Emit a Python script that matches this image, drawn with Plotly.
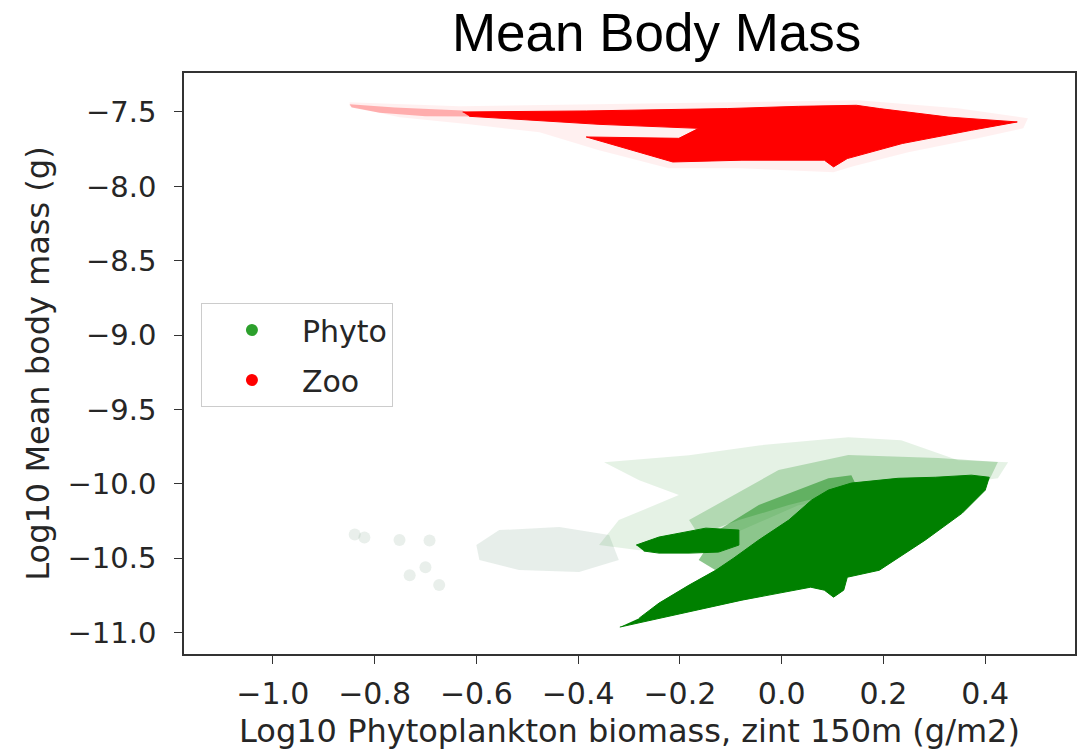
import plotly.graph_objects as go

# ---------------- text ----------------
title_text = "Mean Body Mass"
x_label = "Log10 Phytoplankton biomass, zint 150m (g/m2)"
y_label = "Log10 Mean body mass (g)"
series_names = ["Phyto", "Zoo"]

x_ticks = [-1.0, -0.8, -0.6, -0.4, -0.2, 0.0, 0.2, 0.4]
x_tick_labels = ["−1.0", "−0.8", "−0.6", "−0.4", "−0.2", "0.0", "0.2", "0.4"]
y_ticks = [-7.5, -8.0, -8.5, -9.0, -9.5, -10.0, -10.5, -11.0]
y_tick_labels = ["−7.5", "−8.0", "−8.5", "−9.0", "−9.5", "−10.0", "−10.5", "−11.0"]

# ---------------- Zoo cloud (outlines) ----------------
zoo_halo_x = [-0.849, -0.633, -0.104, 0.151, 0.347, 0.484, 0.475, 0.386, 0.249, 0.141,
              0.102, -0.084, -0.222, -0.359, -0.476, -0.614, -0.751, -0.849]
zoo_halo_y = [-7.435, -7.462, -7.435, -7.421, -7.475, -7.542, -7.610, -7.677, -7.771, -7.865,
              -7.905, -7.878, -7.878, -7.757, -7.636, -7.583, -7.536, -7.462]

zoo_tail_x = [-0.849, -0.760, -0.627, -0.600, -0.700, -0.790, -0.845]
zoo_tail_y = [-7.448, -7.470, -7.490, -7.530, -7.528, -7.505, -7.470]

zoo_core_x = [-0.627, -0.384, -0.106, 0.033, 0.147, 0.192, 0.327, 0.463, 0.373, 0.237,
              0.129, 0.102, 0.084, -0.078, -0.214, -0.329, -0.384, -0.202, -0.163, -0.359,
              -0.614]
zoo_core_y = [-7.500, -7.493, -7.477, -7.462, -7.455, -7.477, -7.534, -7.567, -7.623, -7.712,
              -7.813, -7.869, -7.824, -7.824, -7.836, -7.724, -7.668, -7.677, -7.610, -7.583,
              -7.529]

# ---------------- Phyto cloud ----------------
phyto_ring_x = [-0.600, -0.555, -0.437, -0.339, -0.320, -0.398, -0.516, -0.594]
phyto_ring_y = [-10.410, -10.310, -10.290, -10.344, -10.512, -10.592, -10.579, -10.512]

phyto_faint_x = [-0.839, -0.820, -0.751, -0.692, -0.731, -0.673, -0.700]
phyto_faint_y = [-10.340, -10.360, -10.377, -10.380, -10.613, -10.680, -10.560]

phyto_streak_x = [-0.349, -0.182, -0.045, 0.131, 0.235, 0.347, 0.445, 0.425, 0.033,
                  -0.124, -0.280, -0.359, -0.320, -0.202, -0.280]
phyto_streak_y = [-9.855, -9.808, -9.741, -9.687, -9.706, -9.841, -9.855, -9.962, -10.143,
                  -10.378, -10.445, -10.411, -10.243, -10.075, -9.975]

phyto_streak2_x = [-0.006, 0.131, 0.308, 0.425, 0.408, 0.131, 0.014, -0.084, -0.163, -0.182]
phyto_streak2_y = [-9.907, -9.806, -9.826, -9.853, -9.974, -10.041, -10.142, -10.243,
                   -10.344, -10.243]

phyto_mid_x = [-0.163, -0.124, -0.045, 0.033, 0.092, 0.137, 0.151, 0.059, -0.045, -0.124]
phyto_mid_y = [-10.511, -10.310, -10.142, -10.041, -9.961, -9.941, -10.041, -10.142,
               -10.411, -10.592]

phyto_arm_x = [-0.286, -0.241, -0.149, -0.084, -0.084, -0.124, -0.182, -0.241, -0.271]
phyto_arm_y = [-10.411, -10.357, -10.297, -10.310, -10.411, -10.458, -10.465, -10.465,
               -10.451]

phyto_core_x = [-0.318, -0.196, -0.078, 0.057, 0.084, 0.102, 0.122, 0.129, 0.192, 0.282,
                0.355, 0.400, 0.408, 0.373, 0.302, 0.229, 0.137, 0.092, 0.059, 0.014,
                -0.045, -0.094, -0.129, -0.182, -0.241, -0.280]
phyto_core_y = [-10.962, -10.868, -10.781, -10.694, -10.714, -10.761, -10.714, -10.627,
                -10.580, -10.378, -10.196, -10.042, -9.955, -9.941, -9.955, -9.962, -9.994,
                -10.041, -10.108, -10.243, -10.377, -10.498, -10.579, -10.680, -10.801,
                -10.902]

fig = go.Figure()


def poly(x, y, color, lw=1):
    fig.add_trace(go.Scatter(x=x, y=y, mode="lines", fill="toself", fillcolor=color,
                             line=dict(color=color, width=lw), hoverinfo="skip",
                             showlegend=False))


poly(zoo_halo_x, zoo_halo_y, "rgba(255,0,0,0.06)", 0)
poly(zoo_tail_x, zoo_tail_y, "rgba(255,0,0,0.28)", 0)
poly(zoo_core_x, zoo_core_y, "rgba(255,0,0,1)")
poly(phyto_ring_x, phyto_ring_y, "rgba(70,120,90,0.13)", 0)
fig.add_trace(go.Scatter(x=phyto_faint_x, y=phyto_faint_y, mode="markers",
                         marker=dict(size=12, color="rgba(70,120,90,0.12)"),
                         hoverinfo="skip", showlegend=False))
poly(phyto_streak_x, phyto_streak_y, "rgba(0,128,0,0.10)", 0)
poly(phyto_streak2_x, phyto_streak2_y, "rgba(0,128,0,0.22)", 0)
poly(phyto_mid_x, phyto_mid_y, "rgba(0,128,0,0.45)", 0)
poly(phyto_arm_x, phyto_arm_y, "rgba(0,128,0,1)")
poly(phyto_core_x, phyto_core_y, "rgba(0,128,0,1)")

# legend entries
fig.add_trace(go.Scatter(x=[None], y=[None], mode="markers", name=series_names[0],
                         legendgroup="a", marker=dict(size=12, color="#2ca02c")))
fig.add_trace(go.Scatter(x=[None], y=[None], mode="markers", name=series_names[1],
                         legendgroup="b", marker=dict(size=12, color="#ff0000")))

axis_common = dict(showline=True, mirror=True, linecolor="#333333", linewidth=1.5,
                   ticks="outside", ticklen=8, tickwidth=1.2, tickcolor="#333333",
                   showgrid=False, zeroline=False)

fig.update_layout(
    width=1080, height=752,
    margin=dict(l=184, r=3, t=73, b=98),
    paper_bgcolor="white", plot_bgcolor="white",
    title=dict(text=title_text, x=0.608, xanchor="center", y=0.957, yanchor="middle",
               font=dict(family="Liberation Sans, Arial", size=53, color="black")),
    xaxis=dict(range=[-1.1745, 0.5765], tickvals=x_ticks, ticktext=x_tick_labels,
               ticklabelstandoff=4,
               tickfont=dict(family="DejaVu Sans", size=30, color="#262626"),
               title=dict(text=x_label, standoff=10,
                          font=dict(family="DejaVu Sans", size=32, color="#262626")),
               **axis_common),
    yaxis=dict(range=[-11.143, -7.238], tickvals=y_ticks, ticktext=y_tick_labels,
               ticklabelstandoff=12,
               tickfont=dict(family="DejaVu Sans", size=29, color="#262626"),
               title=dict(text=y_label, standoff=8,
                          font=dict(family="DejaVu Sans", size=32, color="#262626")),
               **axis_common),
    legend=dict(x=0.019, y=0.604, xanchor="left", yanchor="top",
                bgcolor="white", bordercolor="#cccccc", borderwidth=1,
                font=dict(family="DejaVu Sans", size=30, color="#262626"),
                itemwidth=90, tracegroupgap=8),
)

fig.write_html("out.html")
